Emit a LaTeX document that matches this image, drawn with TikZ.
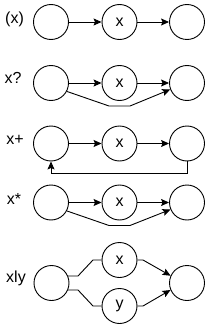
\documentclass[tikz,border=0pt]{standalone}
\usepackage{fontspec}
\setmainfont{Liberation Sans}
\usetikzlibrary{arrows.meta}
\begin{document}
\begin{tikzpicture}[x=1pt,y=-1pt,
  st/.style={circle,draw,line width=0.9pt,minimum size=35pt,inner sep=0pt,font=\fontsize{16}{18}\selectfont},
  lbl/.style={inner sep=0pt,font=\fontsize{16}{18}\selectfont},
  ed/.style={line width=0.9pt,-{Stealth[length=8pt,width=7pt,inset=1.5pt]}},
  ln/.style={line width=0.9pt}]
\useasboundingbox (0,0) rectangle (210,329);
% row 1
\node[lbl] (l1) at (14.5,19) {(x)};
\node[st] (a1) at (51,22) {};
\node[st] (b1) at (119.5,22) {x};
\node[st] (c1) at (187,22) {};
\draw[ed] (a1) -- (b1);
\draw[ed] (b1) -- (c1);
% row 2
\node[lbl] (l2) at (13,78) {x?};
\node[st] (a2) at (51,83) {};
\node[st] (b2) at (119.5,83) {x};
\node[st] (c2) at (187,83) {};
\draw[ed] (a2) -- (b2);
\draw[ed] (b2) -- (c2);
\draw[ed] (a2.-28) -- (109,106) -- (130,106) -- (c2.201);
% row 3
\node[lbl] (l3) at (15,140) {x+};
\node[st] (a3) at (51,143.5) {};
\node[st] (b3) at (119.5,143.5) {x};
\node[st] (c3) at (187,143.5) {};
\draw[ed] (a3) -- (b3);
\draw[ed] (b3) -- (c3);
\draw[ed] (c3.south) -- ++(0,11.5) -| (a3.south);
% row 4
\node[lbl] (l4) at (14,199) {x*};
\node[st] (a4) at (51,202.5) {};
\node[st] (b4) at (119.5,202.5) {x};
\node[st] (c4) at (187,202.5) {};
\draw[ed] (a4) -- (b4);
\draw[ed] (b4) -- (c4);
\draw[ed] (a4.-28) -- (109,225.5) -- (130,225.5) -- (c4.203);
% row 5
\node[lbl] (l5) at (16,278) {xly};
\node[st] (a5) at (51.5,283) {};
\node[st] (x5) at (119.5,260) {x};
\node[st] (y5) at (119.5,306) {y};
\node[st] (c5) at (187,283) {};
\draw[ln] (a5.23.6) -- (78,276) -- (93,260) -- (x5.west);
\draw[ln] (a5.-23.6) -- (78,290) -- (93,306) -- (y5.west);
\draw[ed] (x5.east) -- (143,260) -- (c5.156.4);
\draw[ed] (y5.east) -- (143,306) -- (c5.203.6);
\end{tikzpicture}
\end{document}
